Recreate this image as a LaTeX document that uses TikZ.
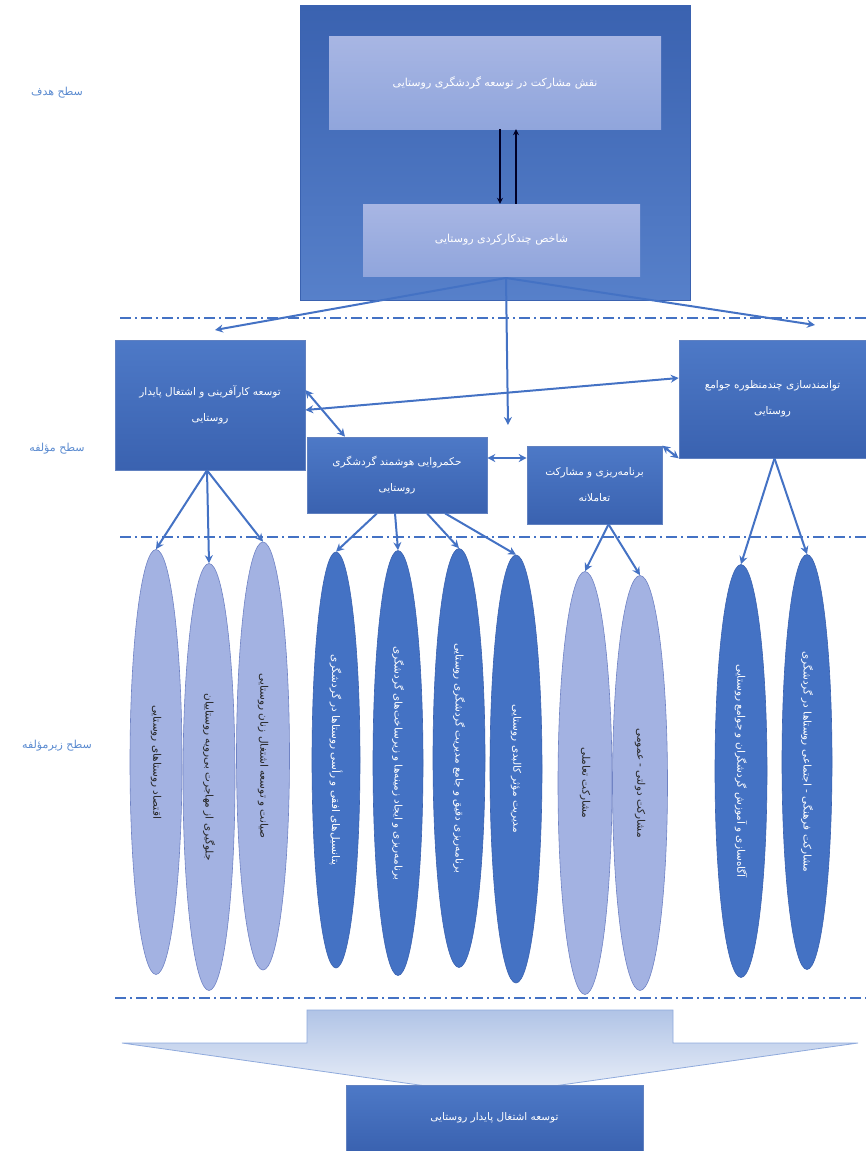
\documentclass[tikz,border=0pt]{standalone}
\usepackage{fontspec}
\usetikzlibrary{shapes.geometric,arrows.meta}
\TeXXeTstate=1
\newfontfamily\arabicfont[Script=Arabic]{DejaVu Sans}
\newcommand{\fa}[1]{{\arabicfont\beginR #1\endR}}
\definecolor{obl}{HTML}{4472C4}
\definecolor{obldk}{HTML}{3A62B0}
\definecolor{lav}{HTML}{A3B2E2}
\definecolor{lavdk}{HTML}{7083C4}
\definecolor{lbl}{HTML}{5B8BD0}
\tikzset{
  bigbox/.style={draw=obldk, line width=0.8pt, top color=obldk, bottom color=obl!90!white, inner sep=0pt},
  lightbox/.style={draw=none, top color=lav!95!white, bottom color=lav!80!obl, text=white, inner sep=0pt, font=\fontsize{11}{13}\selectfont, align=center},
  bluebox/.style={draw=obldk!80, line width=0.6pt, top color=obl!95!white, bottom color=obldk, text=white, inner sep=0pt, font=\fontsize{10.5}{26}\selectfont, align=center},
  darkell/.style={ellipse, draw=obldk, line width=0.6pt, fill=obl, inner sep=0pt},
  lightell/.style={ellipse, draw=lavdk, line width=0.6pt, fill=lav, inner sep=0pt},
  darktxt/.style={rotate=-90, text=white, font=\fontsize{10.5}{12}\selectfont},
  lighttxt/.style={rotate=-90, text=black!85, font=\fontsize{10.5}{12}\selectfont},
  conn/.style={draw=obl, line width=2pt, -{Stealth[length=8pt,width=8pt]}},
  dconn/.style={draw=obl, line width=2pt, {Stealth[length=8pt,width=8pt]}-{Stealth[length=8pt,width=8pt]}},
  blk/.style={draw=black!85!blue, line width=1.2pt, -{Stealth[length=6pt,width=6pt]}},
  sep/.style={draw=obl, line width=1.6pt, dash pattern=on 11pt off 4pt on 2pt off 4pt},
  lvl/.style={text=lbl, font=\fontsize{11}{13}\selectfont}
}
\begin{document}
\begin{tikzpicture}[x=1pt,y=-1pt]
\useasboundingbox (0,0) rectangle (866,1151);
% separators
\draw[sep] (120,318) -- (866,318);
\draw[sep] (120,537) -- (866,537);
\draw[sep] (115,998) -- (866,998);
% level labels
\node[lvl] (l1) at (57,93) {\fa{سطح هدف}};
\node[lvl] (l2) at (57,449) {\fa{سطح مؤلفه}};
\node[lvl] (l3) at (57,746) {\fa{سطح زیرمؤلفه}};
% goal level
\node[bigbox, minimum width=390, minimum height=295] (goal) at (495,152.5) {};
\node[lightbox, minimum width=332, minimum height=93] (role) at (495,82.5) {\fa{نقش مشارکت در توسعه گردشگری روستایی}};
\node[lightbox, minimum width=277, minimum height=72] (ind) at (501.5,240) {\fa{شاخص چندکارکردی روستایی}};
\draw[blk] ([xshift=5pt]role.south) -- ([xshift=-1.5pt]ind.north);
\draw[blk] ([xshift=14.5pt]ind.north) -- ([xshift=21pt]role.south);
% component level
\node[bluebox, minimum width=190, minimum height=130] (A) at (210,405) {\fa{توسعه کارآفرینی و اشتغال پایدار}\\\fa{روستایی}};
\node[bluebox, minimum width=180, minimum height=76] (B) at (397,475) {\fa{حکمروایی هوشمند گردشگری}\\\fa{روستایی}};
\node[bluebox, minimum width=135, minimum height=78] (C) at (594.5,485) {\fa{برنامه‌ریزی و مشارکت}\\\fa{تعاملانه}};
\node[bluebox, minimum width=187, minimum height=118] (D) at (772.5,399) {\fa{توانمندسازی چندمنظوره جوامع}\\\fa{روستایی}};
\coordinate (src) at (506,278);
\coordinate (tA) at (215,330);
\coordinate (tD) at (815,325);
\coordinate (tM) at (508,425);
\draw[conn] (src) -- (tA);
\draw[conn] (src) -- (tD);
\draw[conn] (src) -- (tM);
\draw[dconn] ([yshift=-5pt]A.east) -- ([yshift=21pt]D.west);
\draw[dconn] ([yshift=15pt]A.east) -- ([xshift=-52pt]B.north);
\draw[dconn] ([yshift=17pt]B.east) -- ([yshift=27pt]C.west);
\draw[dconn] (C.north east) -- (D.south west);
% sub-component level
\node[lightell, minimum width=52, minimum height=425] (e1) at (156,762) {};
\node[lightell, minimum width=52, minimum height=427] (e2) at (209,777) {};
\node[lightell, minimum width=53, minimum height=428] (e3) at (263,756) {};
\node[darkell, minimum width=48, minimum height=416] (e4) at (336,760) {};
\node[darkell, minimum width=50, minimum height=425] (e5) at (398,763) {};
\node[darkell, minimum width=52, minimum height=419] (e6) at (459,758) {};
\node[darkell, minimum width=52, minimum height=428] (e7) at (516,769) {};
\node[lightell, minimum width=54, minimum height=423] (e8) at (585,783) {};
\node[lightell, minimum width=55, minimum height=415] (e9) at (640,783) {};
\node[darkell, minimum width=52, minimum height=413] (e10) at (741,771) {};
\node[darkell, minimum width=50, minimum height=415] (e11) at (807,762) {};
\node[lighttxt] (t1) at (e1) {\fa{اقتصاد روستاهای روستایی}};
\node[lighttxt] (t2) at (e2) {\fa{جلوگیری از مهاجرت بی‌رویه روستاییان}};
\node[lighttxt] (t3) at (e3) {\fa{صیانت و توسعه اشتغال زنان روستایی}};
\node[darktxt] (t4) at (e4) {\fa{پتانسیل‌های افقی و رأسی روستاها در گردشگری}};
\node[darktxt] (t5) at (e5) {\fa{برنامه‌ریزی و ایجاد زمینه‌ها و زیرساخت‌های گردشگری}};
\node[darktxt] (t6) at (e6) {\fa{برنامه‌ریزی دقیق و جامع مدیریت گردشگری روستایی}};
\node[darktxt] (t7) at (e7) {\fa{مدیریت مؤثر کالبدی روستایی}};
\node[lighttxt] (t8) at (e8) {\fa{مشارکت تعاملی}};
\node[lighttxt] (t9) at (e9) {\fa{مشارکت دولتی - عمومی}};
\node[darktxt] (t10) at (e10) {\fa{آگاه‌سازی و آموزش گردشگران و جوامع روستایی}};
\node[darktxt] (t11) at (e11) {\fa{مشارکت فرهنگی - اجتماعی روستاها در گردشگری}};
% connectors to sub-components
\draw[conn] ([xshift=-3pt]A.south) -- (e1.north);
\draw[conn] ([xshift=-3pt]A.south) -- (e2.north);
\draw[conn] ([xshift=-3pt]A.south) -- (e3.north);
\draw[conn] ([xshift=-20pt]B.south) -- (e4.north);
\draw[conn] ([xshift=-2pt]B.south) -- (e5.north);
\draw[conn] ([xshift=30pt]B.south) -- (e6.north);
\draw[conn] ([xshift=48pt]B.south) -- (e7.north);
\draw[conn] ([xshift=14pt]C.south) -- (e8.north);
\draw[conn] ([xshift=14pt]C.south) -- (e9.north);
\draw[conn] ([xshift=2pt]D.south) -- (e10.north);
\draw[conn] ([xshift=2pt]D.south) -- (e11.north);
% big arrow
\path[draw=obl!60, line width=0.8pt, top color=obl!42!white, bottom color=obl!10!white]
  (307,1010) -- (673,1010) -- (673,1043) -- (858,1043) -- (490,1095) -- (122,1043) -- (307,1043) -- cycle;
\node[bluebox, minimum width=297, minimum height=66] (res) at (494.5,1118) {\fa{توسعه اشتغال پایدار روستایی}};
\end{tikzpicture}
\end{document}
